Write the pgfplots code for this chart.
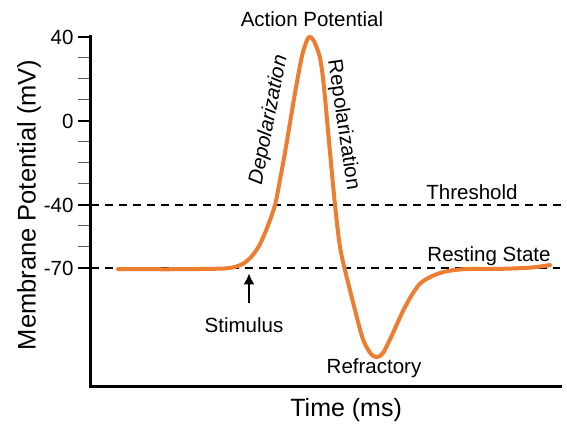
\documentclass[border=0pt]{standalone}
\usepackage{fontspec}
\setmainfont{Liberation Sans}
\usepackage{pgfplots}
\pgfplotsset{compat=1.18}
\usetikzlibrary{arrows.meta}
\definecolor{apor}{RGB}{237,125,49}
\begin{document}
\begin{tikzpicture}
\useasboundingbox (-91pt,-40pt) rectangle (476pt,386pt);
\begin{axis}[
  scale only axis,
  width=469pt, height=349pt,
  at={(0,0)}, anchor=south west,
  xmin=0, xmax=469, ymin=-126.2, ymax=40,
  axis x line=bottom, axis y line=left,
  axis line style={-, line width=3pt, line cap=rect},
  clip=false,
  xtick=\empty,
  ytick={40,0,-40,-70},
  minor ytick={30,20,10,-10,-20,-30,-50,-60},
  tick align=outside,
  major tick length=13pt, minor tick length=13pt,
  major tick style={line width=1.2pt, black},
  minor tick style={line width=1pt, black!65},
  /pgf/number format/assume math mode=true,
  yticklabel style={font=\fontsize{20.5}{24}\selectfont, xshift=-1pt},
  xlabel={Time (ms)}, ylabel={Membrane Potential (mV)},
  every axis x label/.style={at={(axis description cs:0.544,-0.069)}, anchor=center, font=\fontsize{25}{30}\selectfont},
  every axis y label/.style={at={(axis description cs:-0.132,0.519)}, rotate=90, anchor=center, font=\fontsize{25.5}{30}\selectfont},
]
\addplot[black, line width=1.8pt, dash pattern=on 8pt off 6pt] coordinates {(0,-40) (476,-40)};
\addplot[black, line width=1.8pt, dash pattern=on 8pt off 6pt] coordinates {(0,-70) (469,-70)};
\addplot[apor, line width=4pt, line cap=round, smooth, tension=0.5] coordinates {
(27,-70.5) (80,-70.6) (130,-70.3) (143,-69.6) (152,-68) (160,-64.8) (168,-59.5)
(176,-51) (184,-40) (189,-28) (194,-15) (200,2) (205,16) (211,31) (216,38.5)
(219,40) (223,38) (229,30) (233,16) (239,-15) (244,-40) (249,-60) (255,-73)
(264,-90) (272,-104) (280,-111) (286,-112.4) (292,-110.5) (300,-103)
(314,-88.6) (329,-77.5) (349,-72.4) (372,-70.6) (410,-70.4) (440,-69.8) (459,-68.6)
};
\draw[-{Latex[length=11pt,width=11pt]}, line width=1.6pt] (axis cs:158,-86.7) -- (axis cs:158,-72.6);
\node[font=\fontsize{20.5}{24}\selectfont] at (axis cs:221,48.6) {Action Potential};
\node[font=\fontsize{20.5}{24}\selectfont\itshape, rotate=79] at (axis cs:178,0.5) {Depolarization};
\node[font=\fontsize{20.5}{24}\selectfont, rotate=-81.5] at (axis cs:252,-1.9) {Repolarization};
\node[font=\fontsize{20.5}{24}\selectfont] at (axis cs:381,-34) {Threshold};
\node[font=\fontsize{20.5}{24}\selectfont] at (axis cs:398,-64.3) {Resting State};
\node[font=\fontsize{20.5}{24}\selectfont] at (axis cs:153,-97.1) {Stimulus};
\node[font=\fontsize{20.5}{24}\selectfont] at (axis cs:283,-117.6) {Refractory};
\end{axis}
\end{tikzpicture}
\end{document}
